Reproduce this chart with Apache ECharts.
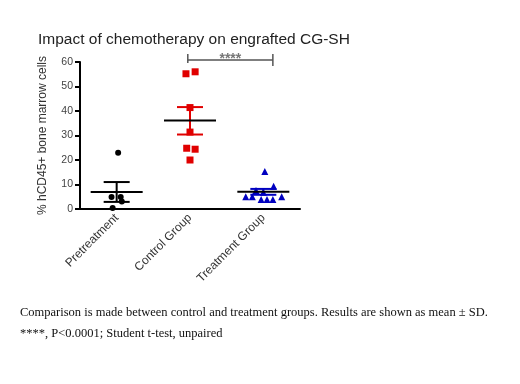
<!DOCTYPE html>
<html>
<head>
<meta charset="utf-8">
<script src="https://cdn.jsdelivr.net/npm/echarts@6/dist/echarts.min.js"></script>
<style>html,body{margin:0;padding:0;background:#fff;}#c{width:520px;height:384px;}</style>
</head>
<body>
<div id="c"></div>
<script>
// ---- data ----
var categories = ['Pretreatment', 'Control Group', 'Treatment Group'];
var yTicks = [0, 10, 20, 30, 40, 50, 60];
var pretreatmentValues = [23.0, 4.9, 4.9, 3.1, 0.4];
var controlValues = [55.2, 56.0, 41.4, 31.4, 24.8, 24.4, 20.0];
var treatmentValues = [15.3, 9.3, 7.6, 6.8, 5.0, 5.0, 5.0, 3.9, 3.9, 3.9];
var groupMeans = [6.9, 36.1, 7.0];
var groupLower = [2.9, 30.4, 5.8];
var groupUpper = [11.0, 41.6, 8.2];
var significance = '****';
var titleText = 'Impact of chemotherapy on engrafted CG-SH';
var yAxisName = '% hCD45+ bone marrow cells';
var captionLines = [
  'Comparison is made between control and treatment groups. Results are shown as mean \u00b1 SD.',
  '****, P<0.0001; Student t-test, unpaired'
];

// ---- layout (horizontal scatter jitter, in category units) ----
var jitter = [
  [0.02, -0.07, 0.055, 0.07, -0.055],
  [-0.055, 0.07, 0, 0, -0.045, 0.07, 0],
  [0.02, 0.14, -0.1, 0.0, -0.24, -0.15, 0.25, -0.03, 0.05, 0.13]
];
function pts(idx, vals) {
  return vals.map(function (v, i) { return [idx + jitter[idx][i], v]; });
}

var chart = echarts.init(document.getElementById('c'));
var groupColors = ['#000000', '#e00000', '#0000c0'];
var sans = '"Liberation Sans", Arial, sans-serif';

chart.setOption({
  animation: false,
  backgroundColor: '#ffffff',
  title: {
    text: titleText, left: 33, top: 27,
    textStyle: { fontFamily: sans, fontSize: 15.5, fontWeight: 'normal', color: '#222' }
  },
  grid: { left: 80, width: 220, top: 62, height: 147 },
  xAxis: [{
    type: 'category', data: categories, boundaryGap: true,
    axisLine: { lineStyle: { color: '#000', width: 2 } },
    axisTick: { alignWithLabel: true, length: 5, lineStyle: { color: '#000', width: 2 } },
    axisLabel: { rotate: 45, margin: 7, fontSize: 12, color: '#333', fontFamily: sans },
    splitLine: { show: false }
  }, {
    type: 'value', min: -0.5, max: 2.5, show: false
  }],
  yAxis: {
    type: 'value', min: 0, max: 60, interval: 10,
    name: yAxisName, nameLocation: 'middle', nameGap: 31,
    nameTextStyle: { fontSize: 12, color: '#333', fontFamily: sans },
    axisLine: { show: true, onZero: false, lineStyle: { color: '#000', width: 2 } },
    axisTick: { show: true, length: 5, lineStyle: { color: '#000', width: 2 } },
    axisLabel: { fontSize: 10.5, color: '#444', margin: 7, fontFamily: sans,
      formatter: function (v) { return yTicks.indexOf(v) >= 0 ? String(v) : ''; } },
    splitLine: { show: false }
  },
  series: [
    { type: 'scatter', xAxisIndex: 1, symbol: 'circle', symbolSize: 6, itemStyle: { color: groupColors[0], opacity: 1 }, data: pts(0, pretreatmentValues), z: 3 },
    { type: 'scatter', xAxisIndex: 1, symbol: 'rect', symbolSize: 7, itemStyle: { color: groupColors[1], opacity: 1 }, data: pts(1, controlValues), z: 3 },
    { type: 'scatter', xAxisIndex: 1, symbol: 'triangle', symbolSize: 7, itemStyle: { color: groupColors[2], opacity: 1 }, data: pts(2, treatmentValues), z: 3 },
    {
      type: 'custom', xAxisIndex: 1, z: 4,
      data: groupMeans.map(function (m, i) { return [i, m, groupLower[i], groupUpper[i]]; }),
      renderItem: function (params, api) {
        var i = api.value(0);
        var pm = api.coord([i, api.value(1)]);
        var pl = api.coord([i, api.value(2)]);
        var pu = api.coord([i, api.value(3)]);
        var col = groupColors[i];
        var mw = 26, cw = 13;
        return {
          type: 'group', children: [
            { type: 'line', shape: { x1: pm[0], y1: pl[1], x2: pm[0], y2: pu[1] }, style: { stroke: col, lineWidth: 2 } },
            { type: 'line', shape: { x1: pm[0] - cw, y1: pl[1], x2: pm[0] + cw, y2: pl[1] }, style: { stroke: col, lineWidth: 2 } },
            { type: 'line', shape: { x1: pm[0] - cw, y1: pu[1], x2: pm[0] + cw, y2: pu[1] }, style: { stroke: col, lineWidth: 2 } },
            { type: 'line', shape: { x1: pm[0] - mw, y1: pm[1], x2: pm[0] + mw, y2: pm[1] }, style: { stroke: '#000', lineWidth: 2 } }
          ]
        };
      }
    },
    {
      type: 'custom', xAxisIndex: 1, z: 4, clip: false,
      data: [[0.97, 2.13, 60.8]],
      renderItem: function (params, api) {
        var a = api.coord([api.value(0), api.value(2)]);
        var b = api.coord([api.value(1), api.value(2)]);
        return {
          type: 'group', children: [
            { type: 'line', shape: { x1: a[0], y1: a[1], x2: b[0], y2: b[1] }, style: { stroke: '#555', lineWidth: 1.5 } },
            { type: 'line', shape: { x1: a[0], y1: a[1] - 6, x2: a[0], y2: a[1] + 3 }, style: { stroke: '#555', lineWidth: 1.5 } },
            { type: 'line', shape: { x1: b[0], y1: b[1] - 6, x2: b[0], y2: b[1] + 6 }, style: { stroke: '#555', lineWidth: 1.5 } },
            { type: 'text', x: (a[0] + b[0]) / 2, y: a[1] - 1, style: { text: significance, fill: '#777', font: 'bold 14px "Liberation Sans", Arial, sans-serif', align: 'center', verticalAlign: 'middle' } }
          ]
        };
      }
    }
  ],
  graphic: [
    { type: 'text', left: 20, top: 306, style: { text: captionLines[0], fill: '#111', font: '12.5px "Liberation Serif", "Times New Roman", serif' } },
    { type: 'text', left: 20, top: 327, style: { text: captionLines[1], fill: '#111', font: '12.5px "Liberation Serif", "Times New Roman", serif' } }
  ]
});
</script>
</body>
</html>
